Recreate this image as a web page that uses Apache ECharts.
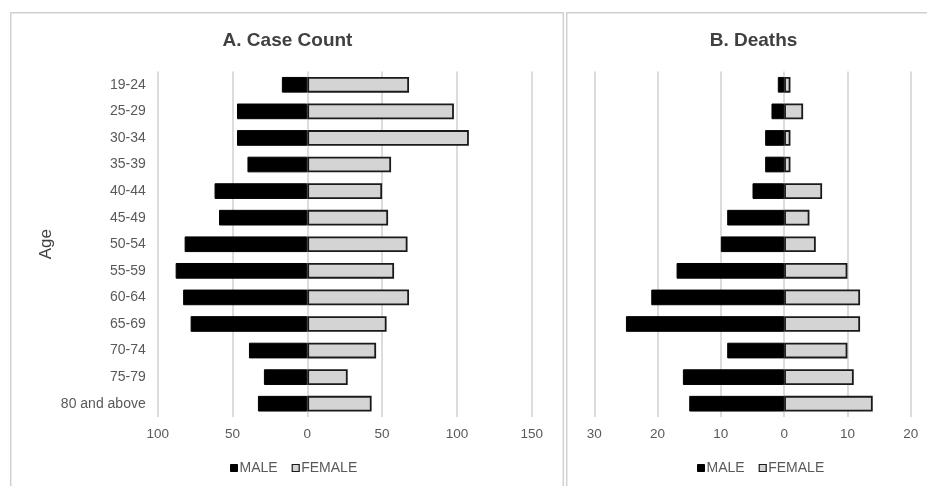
<!DOCTYPE html>
<html>
<head>
<meta charset="utf-8">
<script src="https://cdn.jsdelivr.net/npm/echarts@6/dist/echarts.min.js"></script>
<style>html,body{margin:0;padding:0;background:#fff}#c{width:927px;height:486px}</style>
</head>
<body>
<div id="c"></div>
<script>
var ageGroups = ['19-24','25-29','30-34','35-39','40-44','45-49','50-54','55-59','60-64','65-69','70-74','75-79','80 and above'];
var caseMale   = [17, 47, 47, 40, 62, 59, 82, 88, 83, 78, 39, 29, 33];
var caseFemale = [68, 98, 108, 56, 50, 54, 67, 58, 68, 53, 46, 27, 43];
var deathMale   = [1, 2, 3, 3, 5, 9, 10, 17, 21, 25, 9, 16, 15];
var deathFemale = [1, 3, 1, 1, 6, 4, 5, 10, 12, 12, 10, 11, 14];
var caseTicks = [-100, 150, 50];
var deathTicks = [-30, 20, 10];

var FONT = 'Liberation Sans, Arial, sans-serif';
var neg = function (a) { return a.map(function (v) { return -v; }); };
var absFmt = function (v) { return String(Math.abs(v)); };

function xAxisFor(gridIndex, t) {
  return {
    type: 'value', gridIndex: gridIndex, min: t[0], max: t[1], interval: t[2],
    axisLine: {show: false}, axisTick: {show: false},
    axisLabel: {formatter: absFmt, color: '#595959', fontSize: 13.5, fontFamily: FONT, margin: 10},
    splitLine: {show: true, lineStyle: {color: '#d0d0d0', width: 1.5}}
  };
}
function yAxisFor(gridIndex, showLabels) {
  var ax = {
    type: 'category', gridIndex: gridIndex, data: ageGroups, inverse: true,
    axisLine: {show: false}, axisTick: {show: false},
    axisLabel: {show: showLabels, color: '#595959', fontSize: 14, fontFamily: FONT, margin: 12},
    splitLine: {show: false}
  };
  if (showLabels) {
    ax.name = 'Age';
    ax.nameLocation = 'middle';
    ax.nameGap = 103;
    ax.nameTextStyle = {color: '#404040', fontSize: 17, fontFamily: FONT};
  }
  return ax;
}
var maleStyle = {color: '#000000', borderColor: '#000000', borderWidth: 1};
var femaleStyle = {color: '#d4d4d4', borderColor: '#1a1a1a', borderWidth: 1.8};
function bar(name, data, idx, style) {
  return {
    name: name, type: 'bar', xAxisIndex: idx, yAxisIndex: idx, data: data,
    barWidth: '59%', barGap: '-100%', itemStyle: style, silent: true, animation: false
  };
}
function legendAt(left) {
  return {
    left: left, top: 456, itemWidth: 7, itemHeight: 7, itemGap: 14,
    icon: 'rect',
    data: [
      {name: 'MALE', itemStyle: {color: '#000', borderColor: '#000', borderWidth: 1}},
      {name: 'FEMALE', itemStyle: {color: '#d4d4d4', borderColor: '#1a1a1a', borderWidth: 1.2}}
    ],
    textStyle: {color: '#595959', fontSize: 14, fontFamily: FONT, padding: [0, 0, 0, -3]},
    selectedMode: false
  };
}

var chart = echarts.init(document.getElementById('c'), null, {renderer: 'canvas'});
chart.setOption({
  animation: false,
  backgroundColor: '#ffffff',
  grid: [
    {left: 157.7, top: 71.5, width: 374, height: 345.5},
    {left: 594.3, top: 71.5, width: 316.4, height: 345.5}
  ],
  xAxis: [xAxisFor(0, caseTicks), xAxisFor(1, deathTicks)],
  yAxis: [yAxisFor(0, true), yAxisFor(1, false)],
  legend: [legendAt(225), legendAt(692)],
  series: [
    bar('MALE', neg(caseMale), 0, maleStyle),
    bar('FEMALE', caseFemale, 0, femaleStyle),
    bar('MALE', neg(deathMale), 1, maleStyle),
    bar('FEMALE', deathFemale, 1, femaleStyle)
  ],
  graphic: [
    {type: 'rect', shape: {x: 10.7, y: 12.7, width: 552.6, height: 500}, style: {fill: 'none', stroke: '#d0d0d0', lineWidth: 1.5}, silent: true},
    {type: 'rect', shape: {x: 566.7, y: 12.7, width: 400, height: 500}, style: {fill: 'none', stroke: '#d0d0d0', lineWidth: 1.5}, silent: true},
    {type: 'text', x: 287.5, y: 41, style: {text: 'A. Case Count', fill: '#404040', font: 'bold 19px ' + FONT, textAlign: 'center', textVerticalAlign: 'middle'}, silent: true},
    {type: 'text', x: 753.5, y: 41, style: {text: 'B. Deaths', fill: '#404040', font: 'bold 19px ' + FONT, textAlign: 'center', textVerticalAlign: 'middle'}, silent: true}
  ]
});
</script>
</body>
</html>
